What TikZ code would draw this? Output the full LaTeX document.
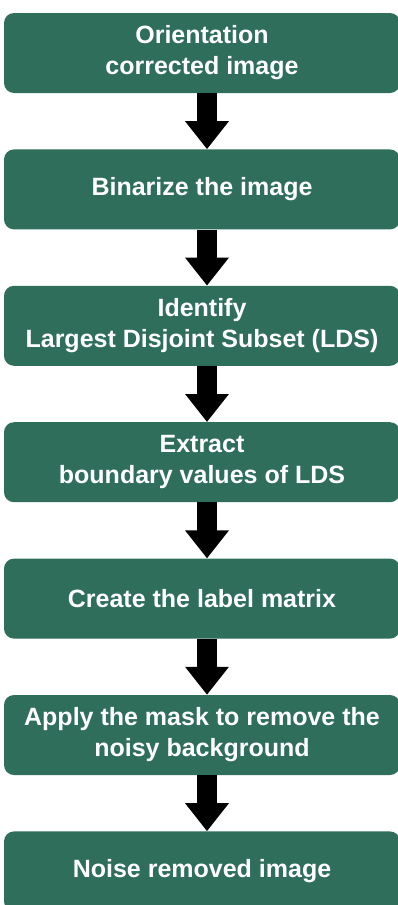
\documentclass[tikz,border=0pt]{standalone}
\usepackage{fontspec}
\setmainfont{Liberation Sans}
\usetikzlibrary{arrows.meta, positioning}
\definecolor{stepgreen}{RGB}{46,110,90}

\begin{document}
\begin{tikzpicture}[
  x=1pt, y=1pt,
  node distance=56pt,
  box/.style={fill=stepgreen, rounded corners=10pt, minimum width=396pt, minimum height=80pt,
    inner sep=0pt, align=center, text=white, font=\bfseries\fontsize{25}{31}\selectfont},
  arrow/.style={-{Triangle[width=42pt, length=28pt]}, line width=20pt}
]
\useasboundingbox (0,0) rectangle (398,-905);

% Nodes
\node[box] (orient) at (202,-53) {Orientation \\ corrected image};
\node[box, below=of orient] (binar) {Binarize the image};
\node[box, below=of binar] (lds) {Identify \\ Largest Disjoint Subset (LDS)};
\node[box, below=of lds] (bound) {Extract \\ boundary values of LDS};
\node[box, below=of bound] (label) {Create the label matrix};
\node[box, below=of label] (mask) {Apply the mask to remove the \\ noisy background};
\node[box, below=of mask] (clean) {Noise removed image};

% Arrows
\draw[arrow] ([xshift=5pt]orient.south) -- ([xshift=5pt]binar.north);
\draw[arrow] ([xshift=5pt]binar.south) -- ([xshift=5pt]lds.north);
\draw[arrow] ([xshift=5pt]lds.south) -- ([xshift=5pt]bound.north);
\draw[arrow] ([xshift=5pt]bound.south) -- ([xshift=5pt]label.north);
\draw[arrow] ([xshift=5pt]label.south) -- ([xshift=5pt]mask.north);
\draw[arrow] ([xshift=5pt]mask.south) -- ([xshift=5pt]clean.north);

\end{tikzpicture}
\end{document}
